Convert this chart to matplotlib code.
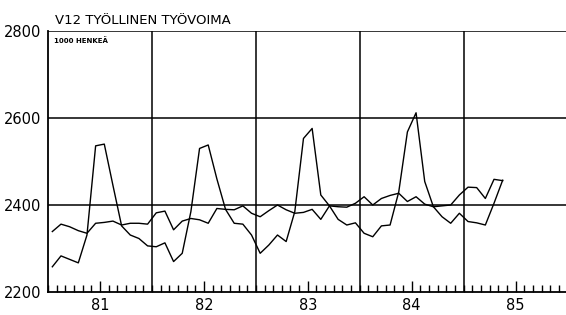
import numpy as np
import matplotlib
matplotlib.use("Agg")
import matplotlib.pyplot as plt

# kuukausittaiset arvot 1/1981 - 5/1985, 1000 henkeä
alkuperainen = [
    2258, 2283, 2275, 2267, 2331, 2536, 2540, 2445, 2352, 2331, 2323, 2306,
    2304, 2313, 2270, 2289, 2385, 2530, 2538, 2460, 2390, 2358, 2356, 2331,
    2289, 2308, 2331, 2316, 2385, 2553, 2576, 2423, 2398, 2367, 2354, 2359,
    2335, 2327, 2352, 2354, 2430, 2568, 2612, 2454, 2396, 2373, 2358, 2381,
    2362, 2359, 2354, 2404, 2457,
]
tasoitettu = [
    2339, 2356, 2350, 2341, 2335, 2358, 2360, 2363, 2354, 2358, 2358, 2356,
    2382, 2386, 2343, 2363, 2369, 2366, 2358, 2392, 2390, 2389, 2398, 2381,
    2373, 2387, 2400, 2389, 2381, 2383, 2390, 2367, 2398, 2396, 2395, 2404,
    2419, 2400, 2415, 2422, 2427, 2408, 2419, 2402, 2396, 2398, 2400, 2423,
    2441, 2440, 2415, 2459, 2456,
]
vuodet = ["81", "82", "83", "84", "85"]
y_ticks = [2200, 2400, 2600, 2800]

plt.rcParams['font.family'] = ["DejaVu Sans"]

fig = plt.figure(figsize=(5.66, 3.15), dpi=100)
ax = fig.add_axes([0.0848, 0.073, 0.915, 0.8286])

kk = np.arange(len(alkuperainen)) + 0.5
ax.plot(kk, alkuperainen, color='black', lw=1.0)
ax.plot(kk, tasoitettu, color='black', lw=1.0)

ax.set_xlim(0, 59.8)
ax.set_ylim(2200, 2800)

# ruudukko
for yv in y_ticks[1:]:
    ax.axhline(yv, color='black', lw=1.1)
for xv in range(12, 60, 12):
    ax.axvline(xv, color='black', lw=1.1)

ax.spines['right'].set_visible(False)
ax.spines['top'].set_visible(False)
for s in ['left', 'bottom']:
    ax.spines[s].set_linewidth(1.3)

ax.set_yticks(y_ticks)
ax.set_yticklabels([str(v) for v in y_ticks], fontsize=10.5)
ax.tick_params(axis='y', length=0, pad=5)

ax.set_xticks([6 + 12 * i for i in range(len(vuodet))])
ax.set_xticklabels(vuodet, fontsize=10.5)
ax.set_xticks(np.arange(0, 60), minor=True)
ax.tick_params(axis='x', which='major', direction='in', length=8, width=1.0, pad=4)
ax.tick_params(axis='x', which='minor', direction='in', length=5, width=1.0)

fig.text(0.097, 0.925, "V12 TYÖLLINEN TYÖVOIMA", fontsize=9.5)
ax.text(0.012, 0.975, "1000 HENKEÄ", transform=ax.transAxes, fontsize=5,
        fontweight='bold', va='top')

fig.savefig("out.png", dpi=100)
